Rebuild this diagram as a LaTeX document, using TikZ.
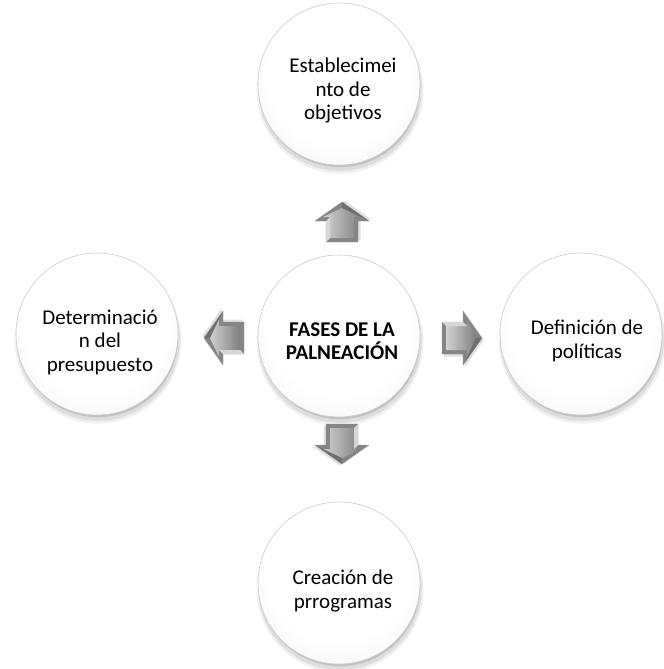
\documentclass[tikz,border=0pt]{standalone}
\usepackage{fontspec}
\setmainfont{Carlito}
\usetikzlibrary{shadows,calc}
\pgfdeclareradialshading{ballshade}{\pgfpoint{0bp}{6bp}}{color(0bp)=(white); color(22bp)=(white); color(42bp)=(black!8); color(50bp)=(black!19); color(56bp)=(black!27); color(62bp)=(black!30)}
\tikzset{
  phase/.style={circle, minimum size=162bp, inner sep=0pt, shading=ballshade,
    draw=black!20, line width=0.6bp,
    drop shadow={shadow xshift=1bp, shadow yshift=-6bp, opacity=0.06, fill=black, shadow scale=1.03},
    drop shadow={shadow xshift=1bp, shadow yshift=-5bp, opacity=0.08, fill=black, shadow scale=1.01},
    drop shadow={shadow xshift=1bp, shadow yshift=-3bp, opacity=0.12, fill=black, shadow scale=0.99}},
  phasetext/.style={align=center, inner sep=0pt, font=\fontsize{21bp}{23.5bp}\selectfont},
  centertext/.style={phasetext, font=\fontsize{21bp}{23.5bp}\selectfont\bfseries},
  blockarrow/.pic={
    \fill[black!20, opacity=0.6, shift={(1.5,2.5)}] (-20,-16) -- (1,-16) -- (1,-27) -- (20,0) -- (1,27) -- (1,16) -- (-20,16) -- cycle;
    \fill[black!48, draw=black!40, line width=0.4bp] (-20,-16) -- (1,-16) -- (1,-27) -- (20,0) -- (1,27) -- (1,16) -- (-20,16) -- cycle;
    \shade[left color=black!18, right color=black!50] (-16,-12) -- (5,-12) -- (5,-19) -- (14,0) -- (5,19) -- (5,12) -- (-16,12) -- cycle;
    \fill[black!8, opacity=0.8] (-16,-12) -- (-20,-16) -- (1,-16) -- (5,-12) -- cycle;
    \fill[black!65, opacity=0.5] (14,0) -- (20,0) -- (1,27) -- (5,19) -- cycle;
  }
}
\begin{document}
\begin{tikzpicture}[x=1bp, y=-1bp]
  \useasboundingbox (0,0) rectangle (664,669);
  \node[phase] (t) at (339,84) {};
  \node[phase] (l) at (97,334) {};
  \node[phase] (r) at (581,334) {};
  \node[phase] (b) at (339,583) {};
  \node[phase] (c) at (339,336) {};
  \node[phasetext] (tt) at ($(t)+(4,7)$) {Establecimei\\nto de\\objetivos};
  \node[phasetext] (lt) at ($(l)+(3,8)$) {Determinació\\n del\\presupuesto};
  \node[phasetext] (rt) at ($(r)+(6,7)$) {Definición de\\políticas};
  \node[phasetext] (bt) at ($(b)+(4,8)$) {Creación de\\prrogramas};
  \node[centertext] (ct) at ($(c)+(3,5)$) {FASES DE LA\\PALNEACIÓN};
  \pic[rotate=90] at (342,222) {blockarrow};
  \pic[rotate=180] at (224,338) {blockarrow};
  \pic at (462,338) {blockarrow};
  \pic[rotate=-90] at (342,444) {blockarrow};
\end{tikzpicture}
\end{document}
